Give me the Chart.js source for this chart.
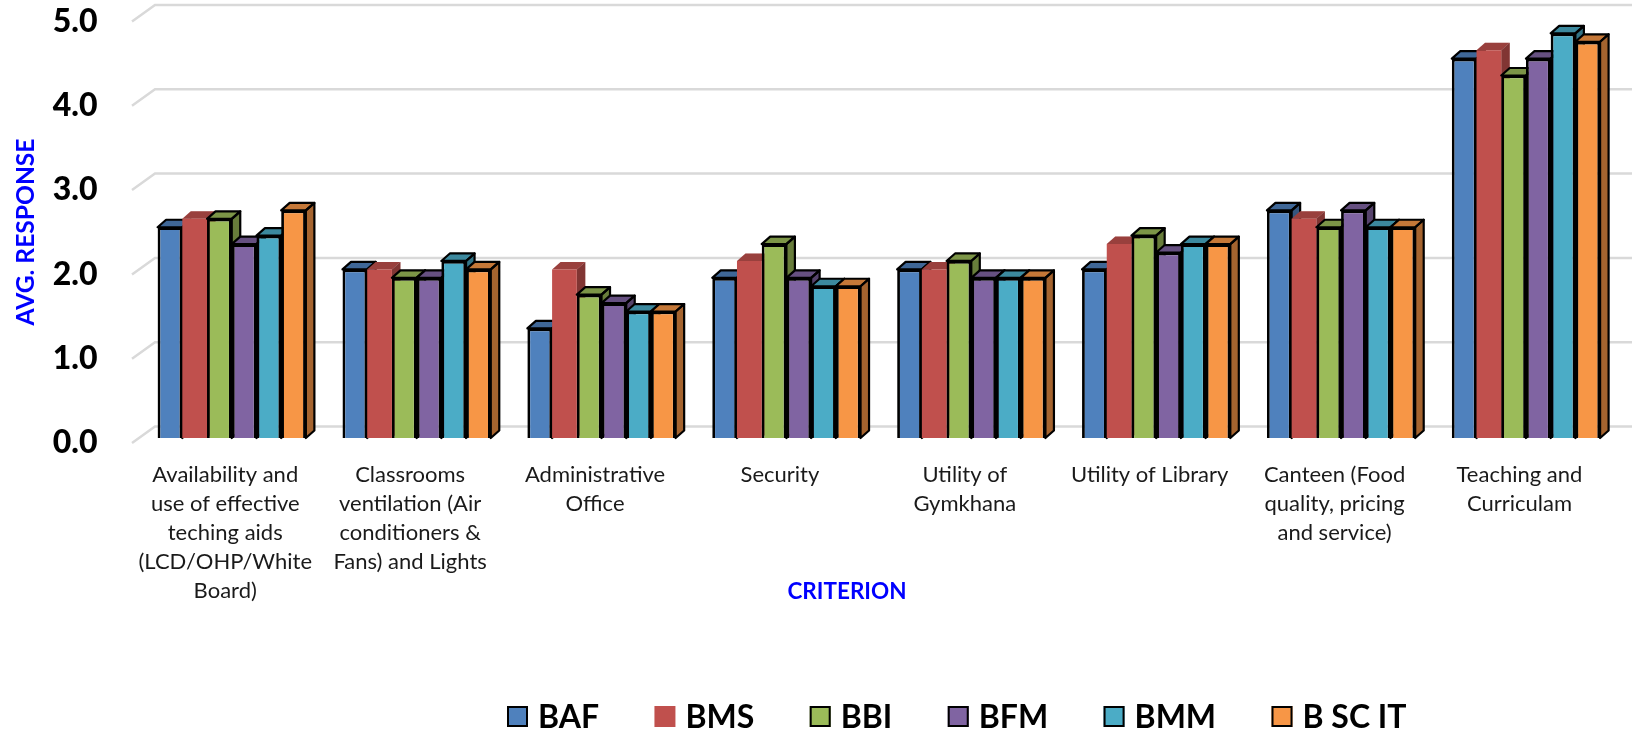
<!DOCTYPE html>
<html>
<head>
<meta charset="utf-8">
<style>
  html, body { margin: 0; padding: 0; background: #fff; }
  #wrap { width: 1632px; height: 732px; }
</style>
<script src="https://cdn.jsdelivr.net/npm/chart.js@4"></script>
</head>
<body>
<div id="wrap"><canvas id="chart" width="1632" height="732"></canvas></div>
<script>
const categories = [
    ['Availability and', 'use of effective', 'teching aids', '(LCD/OHP/White', 'Board)'],
    ['Classrooms', 'ventilation (Air', 'conditioners &', 'Fans) and Lights'],
    ['Administrative', 'Office'],
    ['Security'],
    ['Utility of', 'Gymkhana'],
    ['Utility of Library'],
    ['Canteen (Food', 'quality, pricing', 'and service)'],
    ['Teaching and', 'Curriculam']
];
const baf = [2.5, 2.0, 1.3, 1.9, 2.0, 2.0, 2.7, 4.5];
const bms = [2.6, 2.0, 2.0, 2.1, 2.0, 2.3, 2.6, 4.6];
const bbi = [2.6, 1.9, 1.7, 2.3, 2.1, 2.4, 2.5, 4.3];
const bfm = [2.3, 1.9, 1.6, 1.9, 1.9, 2.2, 2.7, 4.5];
const bmm = [2.4, 2.1, 1.5, 1.8, 1.9, 2.3, 2.5, 4.8];
const bscit = [2.7, 2.0, 1.5, 1.8, 1.9, 2.3, 2.5, 4.7];
const seriesNames = ['BAF', 'BMS', 'BBI', 'BFM', 'BMM', 'B SC IT'];
const seriesValues = [baf, bms, bbi, bfm, bmm, bscit];
const seriesColors = ['#4f81bd', '#c0504d', '#9bbb59', '#8064a2', '#4bacc6', '#f79646'];
const borderWidths = [2.8, 0, 2.8, 2.8, 2.8, 2.8];

const FONT = 'Lato, Carlito, sans-serif';
const DEPTH_X = 8.5;
const DEPTH_Y = 7.5;

// walls: the native grid can't do the diagonal part
const wallGrid = {
    id: 'wallGrid',
    beforeDatasetsDraw(chart) {
        const { ctx, scales: { y } } = chart;
        ctx.save();
        ctx.strokeStyle = '#d9d9d9';
        ctx.lineWidth = 2.5;
        y.ticks.forEach(tick => {
            const py = y.getPixelForValue(tick.value);
            ctx.beginPath();
            ctx.moveTo(132, py + 5);
            ctx.lineTo(155, py - 11.5);
            ctx.lineTo(chart.width, py - 11.5);
            ctx.stroke();
        });
        ctx.restore();
    }
};

// Chart.js draws the last dataset first, but the fake depth needs left to right
const bars3d = {
    id: 'bars3d',
    beforeDatasetDraw() {
        return false;
    },
    afterDatasetsDraw(chart) {
        const { ctx } = chart;
        chart.getSortedVisibleDatasetMetas().forEach((meta, d) => {
            meta.data.forEach(bar => {
                const { x, y, base, width } = bar.getProps(['x', 'y', 'base', 'width'], true);
                const l = x - width / 2;
                const r = x + width / 2;
                const top = new Path2D();
                top.moveTo(l, y);
                top.lineTo(l + DEPTH_X, y - DEPTH_Y);
                top.lineTo(r + DEPTH_X, y - DEPTH_Y);
                top.lineTo(r, y);
                top.closePath();
                const side = new Path2D();
                side.moveTo(r, y);
                side.lineTo(r + DEPTH_X, y - DEPTH_Y);
                side.lineTo(r + DEPTH_X, base - DEPTH_Y);
                side.lineTo(r, base);
                side.closePath();
                ctx.save();
                ctx.lineJoin = 'round';
                ctx.fillStyle = seriesColors[d];
                ctx.fill(top);
                ctx.fill(side);
                ctx.fillStyle = 'rgba(0,0,0,0.2)';
                ctx.fill(top);
                ctx.fillStyle = 'rgba(0,0,0,0.33)';
                ctx.fill(side);
                if (borderWidths[d] > 0) {
                    ctx.strokeStyle = '#000';
                    ctx.lineWidth = 2.2;
                    ctx.stroke(top);
                    ctx.stroke(side);
                }
                ctx.restore();
                bar.draw(ctx, chart.chartArea);
            });
        });
    }
};

// legend and axis titles sit where the native layout won't put them
const legendRow = {
    id: 'legendRow',
    afterDraw(chart) {
        const { ctx } = chart;
        ctx.save();
        ctx.textBaseline = 'middle';
        ctx.textAlign = 'center';
        ctx.fillStyle = '#0000ff';
        ctx.font = 'bold 22.5px ' + FONT;
        ctx.fillText('CRITERION', 847, 592);
        ctx.save();
        ctx.translate(26, 232);
        ctx.rotate(-Math.PI / 2);
        ctx.font = 'bold 24.6px ' + FONT;
        ctx.fillText('AVG. RESPONSE', 0, 0);
        ctx.restore();
        ctx.textAlign = 'left';
        ctx.font = 'bold 32px ' + FONT;
        let x = 507;
        seriesNames.forEach((name, i) => {
            ctx.fillStyle = seriesColors[i];
            ctx.fillRect(x, 706, 21, 21);
            if (borderWidths[i] > 0) {
                ctx.strokeStyle = '#000';
                ctx.lineWidth = 2;
                ctx.strokeRect(x + 1, 707, 19, 19);
            }
            ctx.fillStyle = '#000';
            ctx.fillText(name, x + 31, 718);
            x += 31 + ctx.measureText(name).width + 55.4;
        });
        ctx.restore();
    }
};

Chart.defaults.font.family = FONT;

new Chart(document.getElementById('chart').getContext('2d'), {
    type: 'bar',
    data: {
        labels: categories,
        datasets: seriesNames.map((name, i) => ({
            label: name,
            data: seriesValues[i],
            backgroundColor: seriesColors[i],
            borderColor: '#000',
            borderWidth: borderWidths[i],
            categoryPercentage: 0.802,
            barPercentage: 1
        }))
    },
    options: {
        responsive: false,
        animation: false,
        layout: {
            autoPadding: false,
            padding: { left: 0, top: 16.5, right: 13.6, bottom: 0 }
        },
        plugins: { legend: { display: false }, tooltip: { enabled: false } },
        scales: {
            x: {
                afterFit(scale) {
                    scale.height = 294;
                    scale.paddingLeft = 0;
                    scale.paddingRight = 0;
                },
                grid: { display: false },
                border: { display: false },
                ticks: {
                    autoSkip: false,
                    maxRotation: 0,
                    minRotation: 0,
                    padding: 14,
                    labelOffset: -6.5,
                    color: '#1a1a1a',
                    font: { size: 22, lineHeight: 1.318 }
                }
            },
            y: {
                min: 0,
                max: 5,
                afterFit(scale) {
                    scale.width = 139.3;
                    // tick labels would otherwise push the top of the plot down
                    scale.paddingTop = 0;
                    scale.paddingBottom = 0;
                },
                grid: { display: false },
                border: { display: false },
                ticks: {
                    stepSize: 1,
                    padding: 33.8,
                    labelOffset: 5,
                    color: '#000',
                    font: { size: 32, weight: '900' },
                    callback: value => value.toFixed(1)
                }
            }
        }
    },
    plugins: [wallGrid, bars3d, legendRow]
});
</script>
</body>
</html>
